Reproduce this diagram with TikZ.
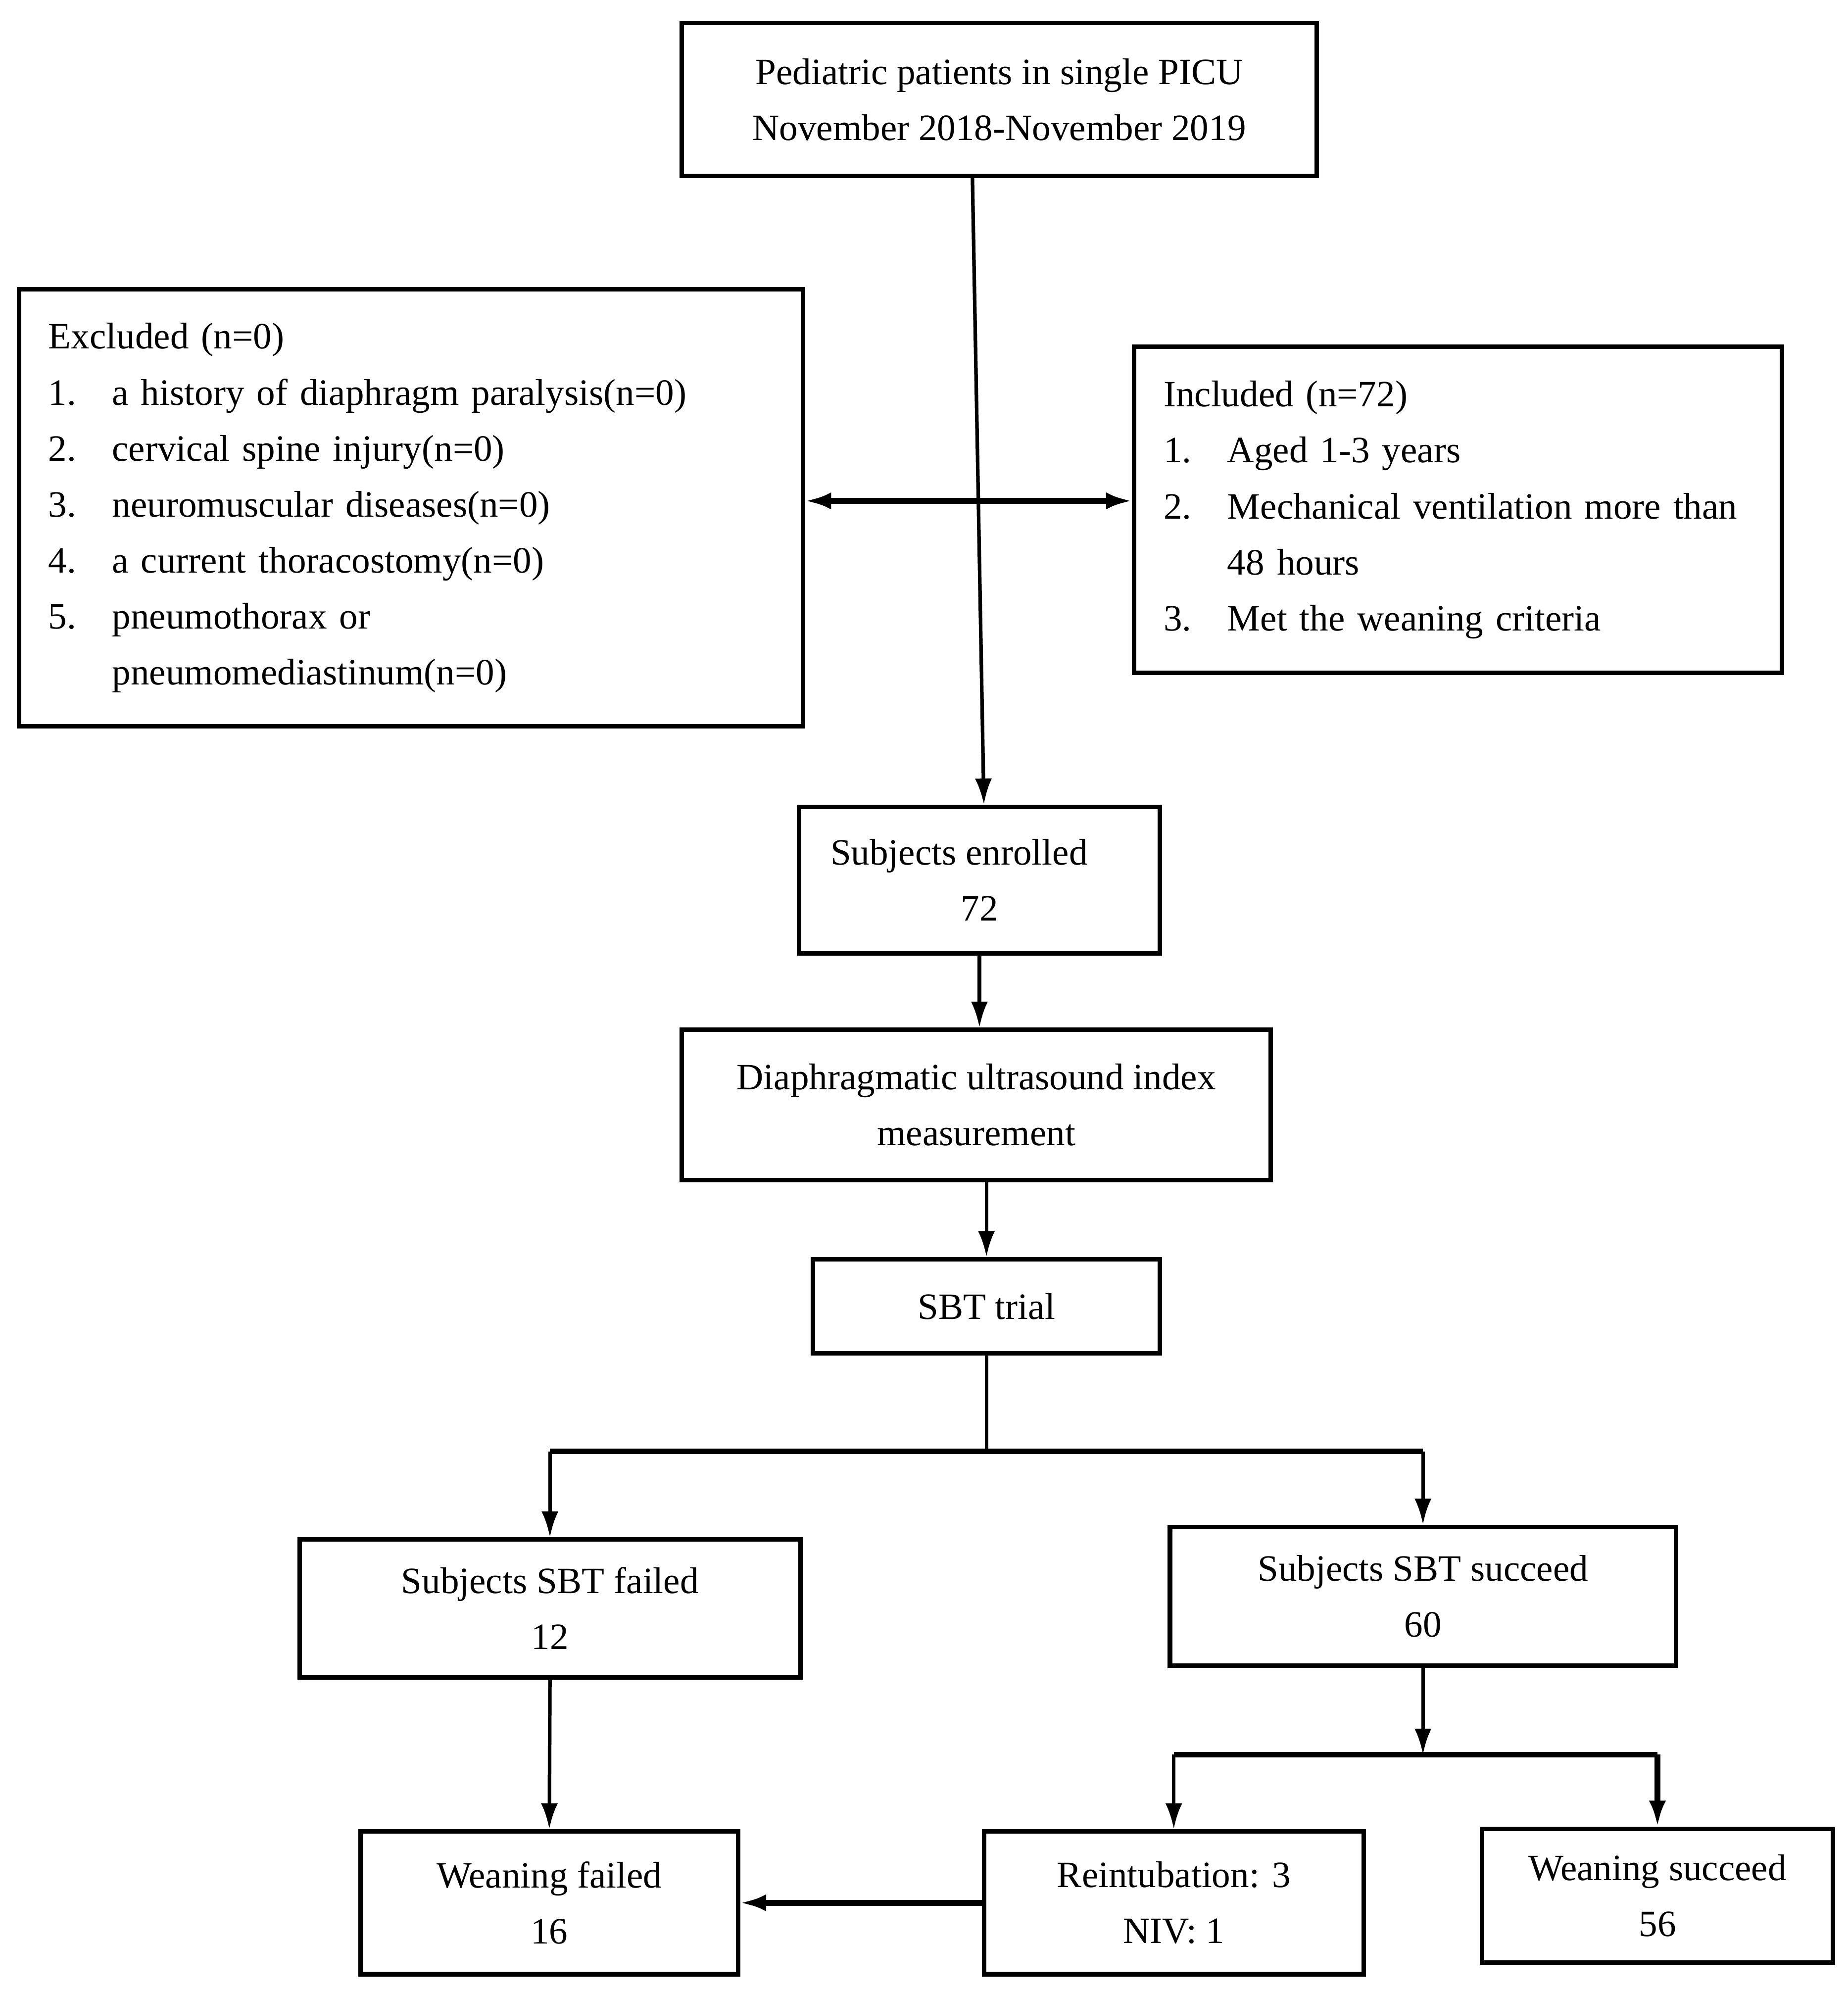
\documentclass[tikz,border=0pt]{standalone}
\usepackage{fontspec}
\setmainfont{Liberation Serif}
\usetikzlibrary{arrows.meta}

\begin{document}
\begin{tikzpicture}[box/.style={draw, line width=1pt, align=center, inner sep=0pt, font=\fontsize{8.3}{12.5}\selectfont},
    listbox/.style={box, align=left, inner xsep=2.3mm},
    >={Latex[length=5.8pt,width=3.8pt]},
    link/.style={->, line width=0.8pt},
    bold/.style={line width=1.3pt}]
            \useasboundingbox (0,0) rectangle (14.5,-15.63);
            \node[box, minimum width=4.98cm, minimum height=1.2cm] (top) at (7.84,-0.78) {Pediatric patients in single PICU\\November 2018-November 2019};
            \node[listbox, text width=5.69cm, minimum height=3.43cm] (excl) at (3.225,-3.985) {Excluded (n=0)\\
                \makebox[5mm][l]{1.}a history of diaphragm paralysis(n=0)\\
                \makebox[5mm][l]{2.}cervical spine injury(n=0)\\
                \makebox[5mm][l]{3.}neuromuscular diseases(n=0)\\
                \makebox[5mm][l]{4.}a current thoracostomy(n=0)\\
                \makebox[5mm][l]{5.}pneumothorax or\\
                \hspace*{5mm}pneumomediastinum(n=0)};
            \node[listbox, text width=4.62cm, minimum height=2.56cm] (incl) at (11.44,-4.0) {Included (n=72)\\
                \makebox[5mm][l]{1.}Aged 1-3 years\\
                \makebox[5mm][l]{2.}\makebox[4.12cm][s]{Mechanical ventilation more than}\\
                \hspace*{5mm}48 hours\\
                \makebox[5mm][l]{3.}Met the weaning criteria};
            \node[box, minimum width=2.83cm, minimum height=1.15cm] (enr) at (7.685,-6.905) {Subjects enrolled\hspace*{3.2mm}\\72};
            \node[box, minimum width=4.62cm, minimum height=1.18cm] (diaph) at (7.66,-8.67) {Diaphragmatic ultrasound index\\measurement};
            \node[box, minimum width=2.72cm, minimum height=0.74cm] (sbt) at (7.74,-10.25) {SBT trial};
            \node[box, minimum width=3.93cm, minimum height=1.08cm] (fail) at (4.315,-12.62) {Subjects SBT failed\\12};
            \node[box, minimum width=3.97cm, minimum height=1.09cm] (succ) at (11.165,-12.525) {Subjects SBT succeed\\60};
            \node[box, minimum width=2.96cm, minimum height=1.12cm] (wfail) at (4.31,-14.93) {Weaning failed\\16};
            \node[box, minimum width=2.98cm, minimum height=1.12cm] (reint) at (9.21,-14.93) {Reintubation: 3\\NIV: 1};
            \node[box, minimum width=2.75cm, minimum height=1.05cm] (wsucc) at (13.005,-14.875) {Weaning succeed\\56};
            \draw[link] ([xshift=-2.1mm]top.south) -- ([xshift=0.35mm]enr.north);
            \draw[<->, bold] ([yshift=0.55mm]excl.east) -- ([yshift=0.7mm]incl.west);
            \draw[link] (enr.south) -- (enr.south |- diaph.north);
            \draw[link] (diaph.south -| sbt.north) -- (sbt.north);
            \draw[line width=0.8pt] (sbt.south) -- ++(0,-0.75) coordinate (split);
            \draw[bold] (split -| fail.north) -- (split -| succ.north);
            \draw[link] (split -| fail.north) -- (fail.north);
            \draw[link] (split -| succ.north) -- (succ.north);
            \draw[link] (fail.south) -- (wfail.north);
            \draw[link] (succ.south) -- ++(0,-0.68) coordinate (split2);
            \draw[bold] (split2 -| reint.north) -- (split2 -| wsucc.north);
            \draw[link] (split2 -| reint.north) -- (reint.north);
            \draw[->, bold] (split2 -| wsucc.north) -- (wsucc.north);
            \draw[->, bold] (reint.west) -- (wfail.east);
        \end{tikzpicture}
\end{document}
